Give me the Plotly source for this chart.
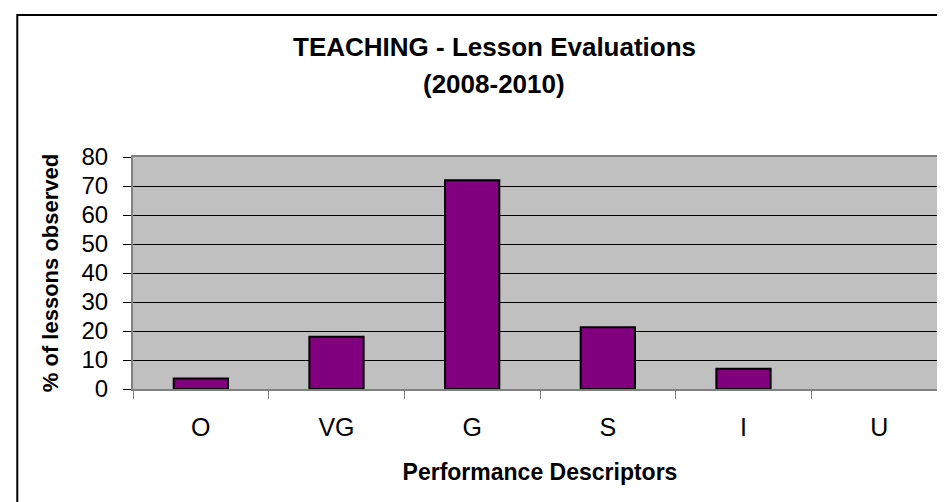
import plotly.graph_objects as go

categories = ["O", "VG", "G", "S", "I", "U"]
values = [3.6, 18, 72, 21.3, 7, 0]
y_ticks = [0, 10, 20, 30, 40, 50, 60, 70, 80]

FONT = "Liberation Sans, Arial, sans-serif"

fig = go.Figure()
fig.add_trace(go.Bar(
    x=categories, y=values, width=0.4,
    marker=dict(color="#800080",
                line=dict(color="black", width=[2 if v > 0 else 0 for v in values])),
    hoverinfo="x+y",
))

fig.update_layout(
    width=945, height=502, autosize=False,
    margin=dict(l=125, r=4, t=149, b=121, pad=0),
    paper_bgcolor="white", plot_bgcolor="#C0C0C0",
    showlegend=False,
    font=dict(family=FONT, color="black"),
    bargap=0.6,
)

fig.update_xaxes(
    showgrid=False, showline=True, linecolor="#808080", linewidth=2, mirror=True,
    ticks="outside", tickson="boundaries", ticklen=8, tickcolor="#808080", tickwidth=1,
    tickfont=dict(size=25, family=FONT), ticklabelstandoff=15,
    title=dict(text="<b>Performance Descriptors</b>", font=dict(size=23, family=FONT), standoff=24),
)
fig.update_yaxes(
    range=[0, 80], tickvals=y_ticks, showgrid=True, gridcolor="black", gridwidth=1,
    showline=True, linecolor="#808080", linewidth=2, mirror=True,
    ticks="outside", ticklen=8, tickcolor="black", tickwidth=1,
    tickfont=dict(size=24, family=FONT), ticklabelstandoff=10,
    zeroline=False,
    title=dict(text="<b>% of lessons observed</b>", font=dict(size=22, family=FONT), standoff=17),
)

# title lines
fig.add_annotation(text="<b>TEACHING - Lesson Evaluations</b>", xref="paper", yref="paper",
                   x=(487 - 125) / 816, y=(381 - 39) / 232, xanchor="center", yanchor="middle",
                   showarrow=False, font=dict(size=26, family=FONT))
fig.add_annotation(text="<b>(2008-2010)</b>", xref="paper", yref="paper",
                   x=(487 - 125) / 816, y=(381 - 76) / 232, xanchor="center", yanchor="middle",
                   showarrow=False, font=dict(size=26, family=FONT))

# chart area border
fig.add_shape(type="rect", xref="paper", yref="paper",
              x0=(9 - 125) / 816, y0=-1.0, x1=1.2, y1=(381 - 7) / 232,
              line=dict(color="black", width=2), fillcolor="rgba(0,0,0,0)", layer="below")

fig.write_html("out.html")
